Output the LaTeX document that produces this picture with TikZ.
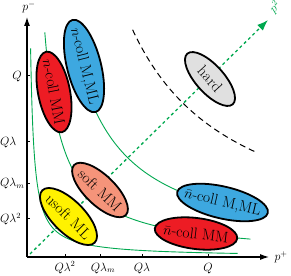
\documentclass[tikz,border=0pt]{standalone}
\usepackage{amsmath}
\usepackage{amssymb}
\usepackage{tikz}
\usetikzlibrary{shapes.geometric}
\usetikzlibrary{positioning}
\usetikzlibrary{arrows.meta}
\definecolor{curvegreen}{rgb}{0,0.66,0.31}
\definecolor{collred}{rgb}{0.93,0.11,0.14}
\definecolor{collblue}{rgb}{0.24,0.66,0.88}
\definecolor{softsalmon}{rgb}{0.96,0.58,0.48}
\definecolor{usoftyellow}{rgb}{1,0.95,0}
\definecolor{hardgray}{rgb}{0.88,0.88,0.88}
\tikzset{
mode_blob/.style={ellipse, draw=black, line width=1.8pt, inner sep=0pt, text=black, font=\fontsize{15.5}{17}\selectfont},
axis_line/.style={line width=1.1pt, -{Latex[length=9pt,width=6pt]}},
tick_mark/.style={line width=1pt},
tick_label/.style={font=\large, inner sep=0pt},
axis_name/.style={font=\large},
scaling_curve/.style={curvegreen, line width=0.9pt},
hard_cut/.style={black, line width=1pt, dash pattern=on 6pt off 4pt},
diag_arrow/.style={curvegreen, line width=1.3pt, dash pattern=on 3pt off 3pt, -{Latex[length=11pt,width=8pt]}},
diag_name/.style={text=curvegreen, font=\large, rotate=45}
}
\begin{document}
\begin{tikzpicture}[x=1pt, y=1pt]
    \useasboundingbox (0,0) rectangle (291,275);
    \coordinate (origin) at (27,18);
    \coordinate (pminus_tip) at (27,258);
    \coordinate (pplus_tip) at (269,18);
    \coordinate (diag_start) at (30,21);
    \coordinate (diag_tip) at (268,255);
    \begin{scope}[shift={(origin)}]
        \draw[scaling_curve] plot[domain=1.28:5.35, samples=80] ({exp(\x)}, {750/exp(\x)});
        \draw[scaling_curve] plot[domain=2.88:5.41, samples=80] ({exp(\x)}, {4000/exp(\x)});
        \draw[scaling_curve] plot[domain=4.01:5.39, samples=60] ({exp(\x)}, {10000/exp(\x)});
        \draw[hard_cut] plot[domain=4.66:5.43, samples=60] ({exp(\x)}, {(24/exp(\x))*1000});
        \foreach \pos in {38, 73, 115, 181} {
            \draw[tick_mark] (\pos,0) -- (\pos,3);
            \draw[tick_mark] (0,\pos) -- (3,\pos);
        }
    \end{scope}
    \draw[diag_arrow] (diag_start) -- (diag_tip);
    \node[diag_name] (diag_label) at (275,268) {$p^2$};
    \draw[axis_line] (origin) -- (pminus_tip);
    \draw[axis_line] (origin) -- (pplus_tip);
    \node[axis_name] (pminus_name) at (29,268) {$p^-$};
    \node[axis_name, right=2pt of pplus_tip] (pplus_name) {$p^+$};
    \node[tick_label, anchor=base east] (ylab_q) at (22,195.5) {$Q$};
    \node[tick_label, anchor=base west] (ylab_ql) at (0,129.5) {$Q\lambda$};
    \node[tick_label, anchor=base west] (ylab_qlm) at (0,88.5) {$Q\lambda_m$};
    \node[tick_label, anchor=base west] (ylab_ql2) at (0,52.5) {$Q\lambda^2$};
    \node[tick_label, anchor=base] (xlab_ql2) at (65,4) {$Q\lambda^2$};
    \node[tick_label, anchor=base] (xlab_qlm) at (103,4) {$Q\lambda_m$};
    \node[tick_label, anchor=base] (xlab_ql) at (142,4) {$Q\lambda$};
    \node[tick_label, anchor=base] (xlab_q) at (208,4) {$Q$};
    \node[mode_blob, fill=collred, minimum width=82pt, minimum height=32pt, rotate=-79] (n_coll_mm) at (54,183) {\makebox[0pt]{$n$-coll MM}};
    \node[mode_blob, fill=collblue, minimum width=95pt, minimum height=34pt, rotate=-76] (n_coll_mml) at (84,209) {\makebox[0pt]{$n$-coll M,ML}};
    \node[mode_blob, fill=hardgray, minimum width=68pt, minimum height=28pt, rotate=-48] (hard) at (210,196) {\makebox[0pt]{hard}};
    \node[mode_blob, fill=softsalmon, minimum width=72pt, minimum height=30pt, rotate=-44] (soft_mm) at (100,85) {\makebox[0pt]{soft MM}};
    \node[mode_blob, fill=usoftyellow, minimum width=74pt, minimum height=32pt, rotate=-45] (usoft_ml) at (68.5,58.5) {\makebox[0pt]{usoft ML}};
    \node[mode_blob, fill=collblue, minimum width=93pt, minimum height=32pt, rotate=-13] (nbar_coll_mml) at (222.5,72.5) {\makebox[0pt]{$\bar{n}$-coll M,ML}};
    \node[mode_blob, fill=collred, minimum width=83pt, minimum height=31pt, rotate=-7] (nbar_coll_mm) at (196,41.5) {\makebox[0pt]{$\bar{n}$-coll MM}};
\end{tikzpicture}
\end{document}
